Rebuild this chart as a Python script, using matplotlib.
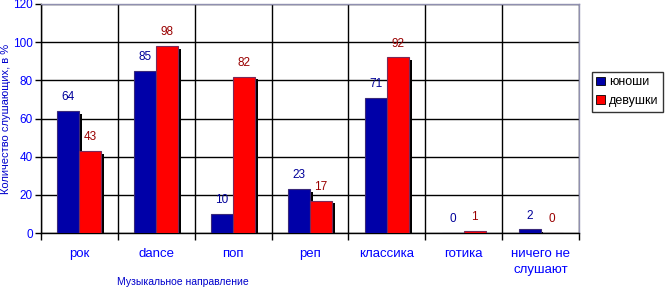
import numpy as np
import matplotlib.pyplot as plt
import matplotlib.patheffects as pe

categories = ["рок", "dance", "поп", "реп", "классика", "готика", "ничего не\nслушают"]
boys = [64, 85, 10, 23, 71, 0, 2]
girls = [43, 98, 82, 17, 92, 1, 0]
series_names = ["юноши", "девушки"]

plt.rcParams['font.family'] = ['Liberation Sans', 'DejaVu Sans']

fig = plt.figure(figsize=(6.69, 2.87), dpi=100)
ax = fig.add_axes([41 / 669, 1 - 233 / 287, 538 / 669, 229 / 287])

x = np.arange(len(categories))
w = 0.286
shadow = [pe.SimplePatchShadow(offset=(2, -2), shadow_rgbFace='black', alpha=1.0), pe.Normal()]

b1 = ax.bar(x - w / 2, boys, w, color='#0000A8', edgecolor='#3a2a7a', linewidth=0.8,
            label=series_names[0], zorder=3)
b2 = ax.bar(x + w / 2, girls, w, color='#FF0000', edgecolor='#7a2a5a', linewidth=0.8,
            label=series_names[1], zorder=3)
for bars, vals in ((b1, boys), (b2, girls)):
    for rect, v in zip(bars, vals):
        if v > 0:
            rect.set_path_effects(shadow)

# подписи значений над столбцами
for xi, v in zip(x, boys):
    ax.text(xi - w / 2, v + 4, str(v), ha='center', va='bottom', fontsize=8.5, color='#000099', zorder=4)
for xi, v in zip(x, girls):
    ax.text(xi + w / 2, v + 4, str(v), ha='center', va='bottom', fontsize=8.5, color='#990000', zorder=4)

ax.set_xlim(-0.5, len(categories) - 0.5)
ax.set_ylim(0, 120)
ax.set_yticks(range(0, 121, 20))
ax.set_xticks(x)
ax.set_xticklabels(categories, linespacing=1.45)
ax.set_xticks(np.arange(-0.5, len(categories), 1), minor=True)
ax.tick_params(axis='x', which='major', length=0, pad=11, labelsize=9.5, labelcolor='#0000FF')
ax.tick_params(axis='x', which='minor', length=5, width=1, color='black', direction='out')
ax.tick_params(axis='y', length=4, width=1, color='black', labelsize=8.5, labelcolor='#0000FF', pad=2)

ax.grid(axis='y', color='black', linewidth=1, zorder=1)
ax.grid(axis='x', which='minor', color='black', linewidth=1, zorder=1)
ax.set_axisbelow(True)

for s in ('left', 'bottom'):
    ax.spines[s].set_color('black')
    ax.spines[s].set_linewidth(1)
for s in ('top', 'right'):
    ax.spines[s].set_color('#9090b0')
    ax.spines[s].set_linewidth(1)

ax.set_ylabel("Количество слушающих, в %", fontsize=8, color='#0000CC')
ax.yaxis.set_label_coords(-0.056, 0.5)
ax.set_xlabel("Музыкальное направление", fontsize=7.5, color='#0000CC')
ax.xaxis.set_label_coords(0.264, -0.19)

leg = fig.legend(handles=[b1, b2], loc='upper left', bbox_to_anchor=(592 / 669, 1 - 72 / 287),
                 frameon=True, fancybox=False, fontsize=9, handlelength=0.7, handleheight=0.7,
                 handletextpad=0.3, borderpad=0.35, labelspacing=0.55, borderaxespad=0)
leg.get_frame().set_edgecolor('black')
leg.get_frame().set_linewidth(1)
for h in leg.legend_handles:
    h.set_path_effects([])
    h.set_edgecolor('black')
    h.set_linewidth(0.6)

fig.savefig("out.png", dpi=100)
